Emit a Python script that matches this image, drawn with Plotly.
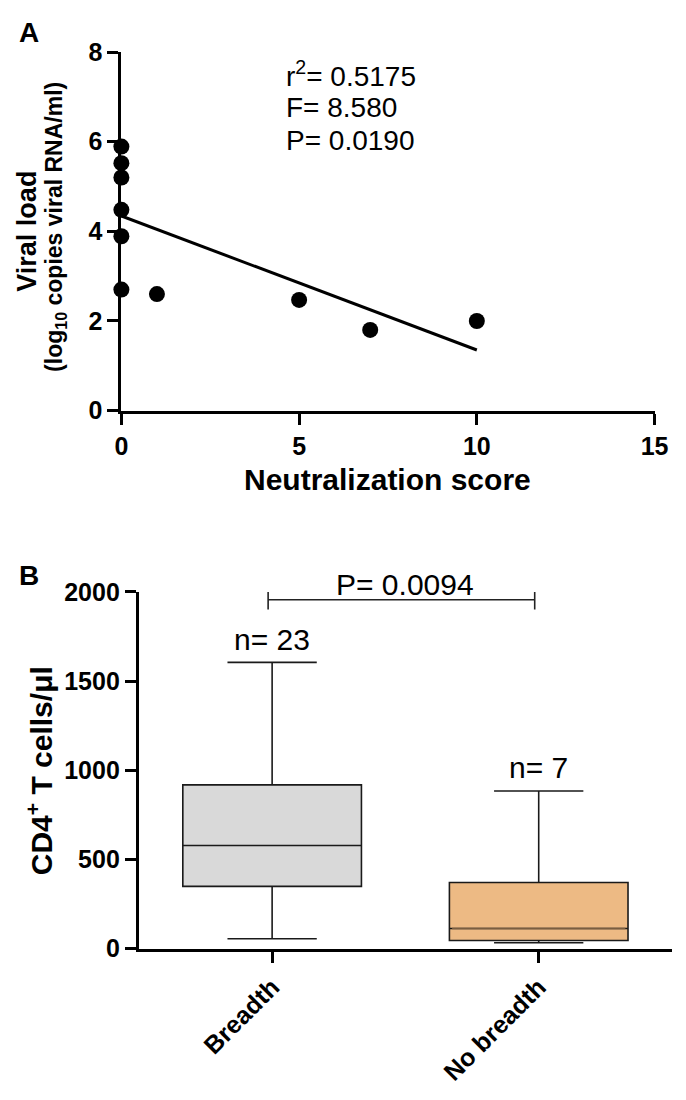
import numpy as np
import plotly.graph_objects as go

# ---------------- Panel A data ----------------
neut_score = [0, 0, 0, 0, 0, 0, 1, 5, 7, 10]
viral_load = [5.89, 5.52, 5.20, 4.48, 3.89, 2.70, 2.60, 2.47, 1.80, 2.00]
a_xticks = [0, 5, 10, 15]
a_yticks = [0, 2, 4, 6, 8]
a_stats = ["r<sup>2</sup>= 0.5175", "F= 8.580", "P= 0.0190"]

# ---------------- Panel B data ----------------
groups = ["Breadth", "No breadth"]
b_q1 = [349, 45]
b_median = [578, 113]
b_q3 = [918, 371]
b_low = [55, 33]
b_high = [1605, 884]
b_n = ["n= 23", "n= 7"]
b_fill = ["#d9d9d9", "#edba84"]
b_pval = "P= 0.0094"
b_pbar = 1956
b_yticks = [0, 500, 1000, 1500, 2000]

FONT = "Liberation Sans, Arial, sans-serif"
W, H = 686, 1100

fig = go.Figure()

# regression line from data
slope, intercept = np.polyfit(neut_score, viral_load, 1)
xfit = np.array([min(neut_score), max(neut_score)])
fig.add_trace(go.Scatter(x=xfit, y=intercept + slope * xfit, mode="lines",
                         line=dict(color="black", width=3), xaxis="x", yaxis="y",
                         showlegend=False, hoverinfo="skip", cliponaxis=False))
fig.add_trace(go.Scatter(x=neut_score, y=viral_load, mode="markers",
                         marker=dict(color="black", size=16), xaxis="x", yaxis="y",
                         showlegend=False, cliponaxis=False))

# boxes
box_w = 0.67
for i, g in enumerate(groups):
    fig.add_trace(go.Box(x=[i], q1=[b_q1[i]], median=[b_median[i]], q3=[b_q3[i]],
                         lowerfence=[b_low[i]], upperfence=[b_high[i]],
                         width=box_w, whiskerwidth=0.5, fillcolor=b_fill[i],
                         line=dict(color="#1a1a1a", width=1.6), boxpoints=False,
                         xaxis="x2", yaxis="y2", showlegend=False, name=g))
# darker median on orange box
fig.add_trace(go.Scatter(x=[1 - box_w / 2 + 0.01, 1 + box_w / 2 - 0.01],
                         y=[b_median[1], b_median[1]], mode="lines",
                         line=dict(color="#7a5e40", width=1.6), xaxis="x2", yaxis="y2",
                         showlegend=False, hoverinfo="skip"))

axis_common = dict(showline=True, linecolor="black", linewidth=3, ticks="outside",
                   ticklen=11, tickwidth=3, tickcolor="black", showgrid=False,
                   zeroline=False, tickfont=dict(family=FONT, size=25, color="black",
                                                 weight="bold"))

fig.update_layout(
    width=W, height=H, margin=dict(l=0, r=0, t=0, b=0),
    paper_bgcolor="white", plot_bgcolor="rgba(0,0,0,0)",
    font=dict(family=FONT, color="black"),
    xaxis=dict(domain=[118 / W, 668 / W], range=[0, 15], tickvals=a_xticks,
               anchor="y", **axis_common),
    yaxis=dict(domain=[1 - 407 / H, 1 - 39 / H], range=[0, 8], tickvals=a_yticks,
               anchor="x", **axis_common),
    xaxis2=dict(domain=[136 / W, 1.0], range=[-0.5, 1.5], tickvals=[0, 1],
                ticktext=groups, tickangle=-45, anchor="y2", **axis_common),
    yaxis2=dict(domain=[1 - 959 / H, 1 - 593 / H], range=[0, 2000], tickvals=b_yticks,
                anchor="x2", **axis_common),
)

def px(x, y):
    return x / W, 1 - y / H

ann = []
# panel letters
for letter, (lx, ly) in (("A", (10, 19)), ("B", (10, 576))):
    x, y = px(lx, ly)
    ann.append(dict(text="<b>%s</b>" % letter, x=x, y=y, xref="paper", yref="paper",
                    xanchor="left", yanchor="middle", showarrow=False,
                    font=dict(size=28, family=FONT)))
# panel A stats
for k, s in enumerate(a_stats):
    x, y = px(286, 62 + 34 * k)
    ann.append(dict(text=s, x=x, y=y, xref="paper", yref="paper",
                    xanchor="left", yanchor="middle", showarrow=False,
                    font=dict(size=28, family=FONT)))
# panel A axis titles
x, y = px(21, 223)
ann.append(dict(text="<b>Viral load</b>", x=x, y=y, xref="paper", yref="paper",
                textangle=-90, showarrow=False, xanchor="center", yanchor="middle",
                font=dict(size=27, family=FONT)))
x, y = px(50, 218)
ann.append(dict(text="<b>(log<sub>10</sub> copies viral RNA/ml)</b>", x=x, y=y,
                xref="paper", yref="paper", textangle=-90, showarrow=False,
                xanchor="center", yanchor="middle", font=dict(size=23, family=FONT)))
x, y = px(393, 478)
ann.append(dict(text="<b>Neutralization score</b>", x=x, y=y, xref="paper",
                yref="paper", showarrow=False, xanchor="center", yanchor="middle",
                font=dict(size=30, family=FONT)))
# panel B y title
x, y = px(34, 776)
ann.append(dict(text="<b>CD4<sup>+</sup> T cells/μl</b>", x=x, y=y, xref="paper",
                yref="paper", textangle=-90, showarrow=False, xanchor="center",
                yanchor="middle", font=dict(size=30, family=FONT)))
# n labels
for i in range(2):
    ann.append(dict(text=b_n[i], x=i, y=b_high[i], xref="x2", yref="y2", yshift=23,
                    showarrow=False, xanchor="center", yanchor="middle",
                    font=dict(size=30, family=FONT)))
# p-value label
ann.append(dict(text=b_pval, x=0.5, y=b_pbar, xref="x2", yref="y2", yshift=15,
                showarrow=False, xanchor="center", yanchor="middle",
                font=dict(size=30, family=FONT)))
fig.update_layout(annotations=ann)

shapes = [
    dict(type="line", xref="x2", yref="y2", x0=-0.015, x1=0.985, y0=b_pbar, y1=b_pbar,
         line=dict(color="#222", width=1.6)),
    dict(type="line", xref="x2", yref="y2", x0=-0.015, x1=-0.015,
         y0=b_pbar - 55, y1=b_pbar + 55, line=dict(color="#222", width=1.6)),
    dict(type="line", xref="x2", yref="y2", x0=0.985, x1=0.985,
         y0=b_pbar - 55, y1=b_pbar + 55, line=dict(color="#222", width=1.6)),
]
fig.update_layout(shapes=shapes)

fig.write_html("out.html", config={"displayModeBar": False},
               post_script="document.body.style.margin='0';")
